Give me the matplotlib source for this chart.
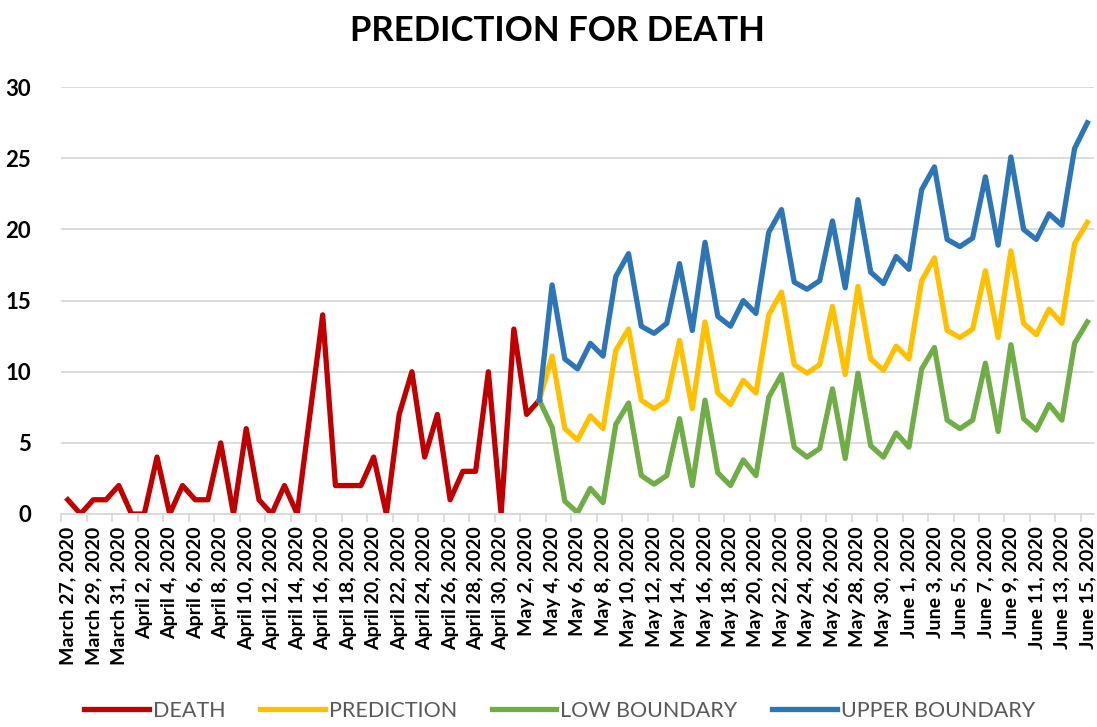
import numpy as np
import pandas as pd
import matplotlib
matplotlib.use("Agg")
import matplotlib.pyplot as plt

plt.rcParams['font.family'] = ['Lato', 'DejaVu Sans']

# dates: March 27 2020 .. June 15 2020
dates = pd.date_range("2020-03-27", "2020-06-15", freq="D")
date_labels = [f"{d.strftime('%B')} {d.day}, {d.year}" for d in dates]

# observed deaths, March 27 .. May 3
death = [1, 0, 1, 1, 2, 0, 0, 4, 0, 2, 1, 1, 5, 0, 6, 1, 0, 2, 0, 7,
         14, 2, 2, 2, 4, 0, 7, 10, 4, 7, 1, 3, 3, 10, 0, 13, 7, 8]

# forecast, May 3 .. June 15
prediction = [8, 11.1, 6.0, 5.2, 6.9, 6.0, 11.5, 13.0, 8.0, 7.4, 8.0, 12.2,
              7.4, 13.5, 8.5, 7.7, 9.4, 8.5, 14.0, 15.6, 10.5, 9.9, 10.5, 14.6,
              9.8, 16.0, 10.9, 10.1, 11.8, 10.9, 16.4, 18.0, 12.9, 12.4, 13.0,
              17.1, 12.4, 18.5, 13.4, 12.6, 14.4, 13.4, 19.0, 20.5]
low_boundary = [8, 6.1, 0.9, 0.1, 1.8, 0.8, 6.3, 7.8, 2.7, 2.1, 2.7, 6.7,
                2.0, 8.0, 2.9, 2.0, 3.8, 2.7, 8.2, 9.8, 4.7, 4.0, 4.6, 8.8,
                3.9, 9.9, 4.8, 4.0, 5.7, 4.7, 10.2, 11.7, 6.6, 6.0, 6.6,
                10.6, 5.8, 11.9, 6.7, 5.9, 7.7, 6.6, 12.0, 13.5]
upper_boundary = [8, 16.1, 10.9, 10.2, 12.0, 11.1, 16.7, 18.3, 13.2, 12.7, 13.4, 17.6,
                  12.9, 19.1, 13.9, 13.2, 15.0, 14.1, 19.8, 21.4, 16.3, 15.8, 16.4, 20.6,
                  15.9, 22.1, 17.0, 16.2, 18.1, 17.2, 22.8, 24.4, 19.3, 18.8, 19.4,
                  23.7, 18.9, 25.1, 20.0, 19.3, 21.1, 20.3, 25.7, 27.5]

x_death = np.arange(len(death))
x_fc = np.arange(len(death) - 1, len(death) - 1 + len(prediction))

fig = plt.figure(figsize=(10.97, 7.27), dpi=100)
ax = fig.add_axes([0.056, 0.293, 0.941, 0.587])

lw = 3.8
ax.plot(x_death, death, color='#C00000', lw=lw, label='DEATH', solid_joinstyle='round')
ax.plot(x_fc, prediction, color='#FFC000', lw=lw, label='PREDICTION', solid_joinstyle='round')
ax.plot(x_fc, low_boundary, color='#70AD47', lw=lw, label='LOW BOUNDARY', solid_joinstyle='round')
ax.plot(x_fc, upper_boundary, color='#2E75B6', lw=lw, label='UPPER BOUNDARY', solid_joinstyle='round')

ax.set_xlim(-0.5, len(dates) - 0.5)
ax.set_ylim(0, 30)
ax.set_yticks(range(0, 31, 5))
ax.grid(axis='y', color='#D9D9D9', lw=1.3)
ax.set_axisbelow(True)
for s in ['top', 'right', 'left']:
    ax.spines[s].set_visible(False)
ax.spines['bottom'].set_color('#D9D9D9')
ax.spines['bottom'].set_linewidth(1.3)

ax.set_xticks(np.arange(0, len(dates), 2))
ax.set_xticklabels(date_labels[::2], rotation=90, fontsize=14, fontweight='bold')
ax.set_xticks(np.arange(-0.5, len(dates), 2), minor=True)
ax.tick_params(axis='x', which='major', length=0, pad=9)
ax.tick_params(axis='x', which='minor', length=6, color='#D9D9D9', width=1.3)
ax.tick_params(axis='y', length=0, pad=22)
for t in ax.get_yticklabels():
    t.set_fontsize(16)
    t.set_fontweight('bold')

fig.suptitle('PREDICTION FOR DEATH', x=0.508, fontsize=25, fontweight='bold', y=0.98)

leg = fig.legend(loc='center', bbox_to_anchor=(0.51, 0.022), ncol=4, frameon=False,
                 fontsize=15.5, handlelength=3, handletextpad=0.2, columnspacing=1.6)
for t in leg.get_texts():
    t.set_color('#595959')

fig.savefig('out.png', dpi=100)
